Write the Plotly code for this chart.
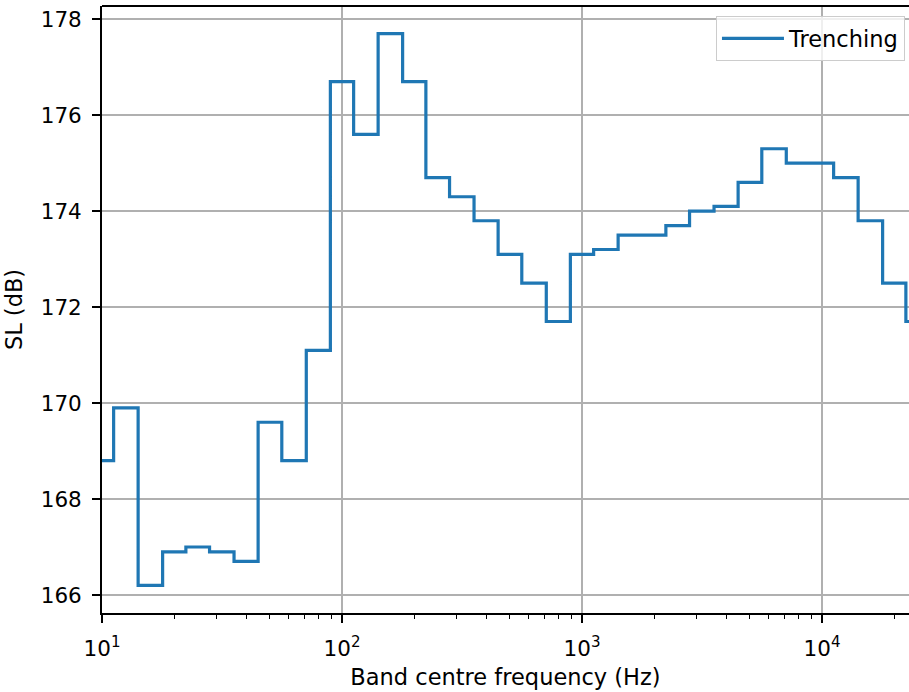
import plotly.graph_objects as go

# Third-octave band centre frequencies (Hz)
freq = [10, 12.5, 16, 20, 25, 31.5, 40, 50, 63, 80,
        100, 125, 160, 200, 250, 315, 400, 500, 630, 800,
        1000, 1250, 1600, 2000, 2500, 3150, 4000, 5000, 6300, 8000,
        10000, 12500, 16000, 20000, 25000]
# Source level (dB) for trenching
sl_trenching = [168.8, 169.9, 166.2, 166.9, 167.0, 166.9, 166.7, 169.6, 168.8, 171.1,
                176.7, 175.6, 177.7, 176.7, 174.7, 174.3, 173.8, 173.1, 172.5, 171.7,
                173.1, 173.2, 173.5, 173.5, 173.7, 174.0, 174.1, 174.6, 175.3, 175.0,
                175.0, 174.7, 173.8, 172.5, 171.7]

x_major = [10, 100, 1000, 10000]
x_major_text = ["10<sup>1</sup>", "10<sup>2</sup>", "10<sup>3</sup>", "10<sup>4</sup>"]
y_ticks = [166, 168, 170, 172, 174, 176, 178]

x_minor = [m * d for d in (10, 100, 1000, 10000) for m in range(2, 10)]

FONT = "DejaVu Sans"
FS = 21.5
FS_T = 22.5

fig = go.Figure()
fig.add_trace(go.Scatter(
    x=freq, y=sl_trenching, mode="lines", name="Trenching",
    line=dict(shape="hvh", color="#1f77b4", width=3.2),
))

fig.update_layout(
    width=909, height=692,
    margin=dict(l=102, r=0, t=6, b=79),
    paper_bgcolor="white", plot_bgcolor="white",
    font=dict(family=FONT, size=FS, color="black"),
    showlegend=True,
    legend=dict(
        x=0.995, xanchor="right", y=0.983, yanchor="top",
        itemwidth=62,
        bgcolor="rgba(255,255,255,0.8)", bordercolor="#cccccc", borderwidth=1,
        font=dict(family=FONT, size=FS_T, color="black"),
    ),
    xaxis=dict(
        type="log", range=[1, 1 + 807 / 240],
        tickvals=x_major, ticktext=x_major_text,
        ticks="outside", ticklen=8, tickwidth=1.8, tickcolor="black",
        showline=True, linecolor="black", linewidth=1.8,
        showgrid=True, gridcolor="#b0b0b0", gridwidth=1.6,
        zeroline=False,
        minor=dict(tickvals=x_minor, ticks="outside", ticklen=4.5, tickwidth=1.4,
                   tickcolor="black", showgrid=False),
        title=dict(text="Band centre frequency (Hz)", standoff=10,
                   font=dict(family=FONT, size=FS_T, color="black")),
        ticklabelstandoff=7,
    ),
    yaxis=dict(
        range=[165.625, 178.275],
        tickvals=y_ticks,
        ticks="outside", ticklen=8, tickwidth=1.8, tickcolor="black",
        showline=True, linecolor="black", linewidth=1.8,
        showgrid=True, gridcolor="#b0b0b0", gridwidth=1.6,
        zeroline=False,
        title=dict(text="SL (dB)", standoff=12,
                   font=dict(family=FONT, size=FS_T, color="black")),
        ticklabelstandoff=6,
    ),
)

# top spine (right spine lies outside the visible area)
fig.add_shape(type="line", xref="paper", yref="paper", x0=0, x1=1, y0=1, y1=1,
              line=dict(color="black", width=1.8))

fig.write_html("out.html", config={"displayModeBar": False},
               post_script="document.body.style.margin='0px';document.body.style.overflow='hidden';")
